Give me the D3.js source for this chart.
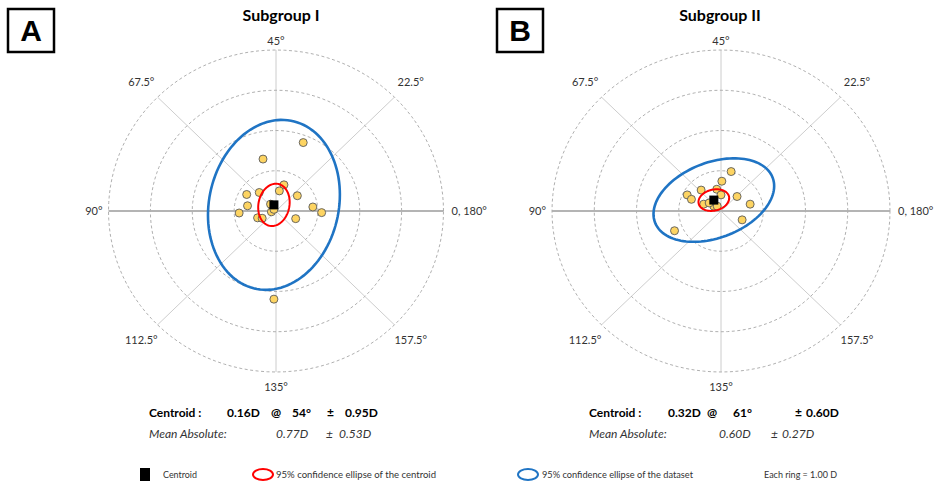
<!DOCTYPE html>
<html>
<head>
<meta charset="utf-8">
<script src="https://cdn.jsdelivr.net/npm/d3@7"></script>
<style>
  body { margin: 0; background: white; }
  text { font-family: Lato, "Open Sans", sans-serif; }
</style>
</head>
<body>
<div id="vis"></div>
<script>
// data (double-angle plot, values in diopters)
let panelLetters = ['A', 'B']
let titles = ['Subgroup I', 'Subgroup II']
let ringValues = [1, 2, 3, 4]
let spokeAngles = [22.5, 67.5, 112.5, 157.5]
let axisLabels = ['0, 180°', '22.5°', '45°', '67.5°', '90°', '112.5°', '135°', '157.5°']

// points as [x, y] components
let pointsA = [
  [0.65, 1.70], [-0.31, 1.29], [0.19, 0.65], [0.08, 0.50], [-0.40, 0.46],
  [-0.70, 0.41], [0.51, 0.38], [-0.68, 0.13], [-0.13, 0.17], [0.88, 0.10],
  [-0.88, -0.05], [1.09, -0.04], [-0.11, -0.02], [-0.05, 0.04], [-0.44, -0.17],
  [-0.33, -0.18], [0.47, -0.19], [-0.05, -2.19]
]
let pointsB = [
  [0.24, 0.98], [0.02, 0.74], [-0.47, 0.52], [-0.10, 0.54], [-0.80, 0.40],
  [-0.70, 0.29], [0.00, 0.40], [0.38, 0.36], [-0.41, 0.17], [-0.17, 0.12],
  [-0.09, 0.12], [0.69, 0.17], [0.50, -0.22], [-1.10, -0.49], [-0.28, 0.20]
]

let centroidMag = [0.16, 0.32]
let centroidAxis = [54, 61]
let centroidSD = [0.95, 0.60]
let meanAbs = [0.77, 0.60]
let meanAbsSD = [0.53, 0.27]

// ellipses: [semi-major, semi-minor, rotation in degrees]
let centroidEllipse = [[0.53, 0.37, 80], [0.37, 0.26, 15]]
let datasetEllipse = [[2.13, 1.55, 79], [1.50, 0.93, 23]]

let legendLabels = ['Centroid', '95% confidence ellipse of  the centroid', '95% confidence ellipse of the dataset', 'Each ring = 1.00 D']

// layout
let width = 936, height = 489
let panels = [
  { cx: 276, cy: 211, rx: 167.5, ry: 161, box: 8, titleX: 281,
    row1X: [149, 227, 271, 292, 327, 345], row2X: [149, 276, 326, 339] },
  { cx: 721, cy: 211, rx: 169, ry: 161, box: 497, titleX: 720,
    row1X: [589, 668, 707, 733, 795, 806], row2X: [589, 719, 771, 782] }
]

let svg = d3.select('#vis')
  .append('svg')
  .attr('width', width)
  .attr('height', height)
  .style('background-color', 'white')

let ellipseLine = (x, y) => d3.line()
  .x(d => x(d[0]))
  .y(d => y(d[1]))
  .curve(d3.curveLinearClosed)

function ellipsePoints(cx, cy, a, b, rotDeg) {
  let th = rotDeg * Math.PI / 180
  return d3.range(0, 360, 3).map(t => {
    let r = t * Math.PI / 180
    return [cx + a * Math.cos(r) * Math.cos(th) - b * Math.sin(r) * Math.sin(th),
            cy + a * Math.cos(r) * Math.sin(th) + b * Math.sin(r) * Math.cos(th)]
  })
}

panels.forEach((p, i) => {
  let g = svg.append('g')
  let x = d3.scaleLinear().domain([-4, 4]).range([p.cx - p.rx, p.cx + p.rx])
  let y = d3.scaleLinear().domain([-4, 4]).range([p.cy + p.ry, p.cy - p.ry])
  let line = ellipseLine(x, y)

  // panel letter box
  g.append('rect')
    .attr('x', p.box).attr('y', 9)
    .attr('width', 46).attr('height', 43)
    .attr('fill', 'none').attr('stroke', 'black').attr('stroke-width', 2.5)
  g.append('text')
    .attr('x', p.box + 23).attr('y', 41)
    .attr('text-anchor', 'middle')
    .style('font-family', 'Arial, "Liberation Sans", sans-serif')
    .style('font-size', '30px').style('font-weight', 'bold')
    .text(panelLetters[i])

  // title
  g.append('text')
    .attr('x', p.titleX).attr('y', 21)
    .attr('text-anchor', 'middle')
    .style('font-size', '16px').style('font-weight', 'bold')
    .text(titles[i])

  // spokes at 45° display angles
  spokeAngles.forEach(a => {
    let t = 2 * a * Math.PI / 180
    g.append('line')
      .attr('x1', x(0)).attr('y1', y(0))
      .attr('x2', x(4 * Math.cos(t))).attr('y2', y(4 * Math.sin(t)))
      .attr('stroke', '#cdcdcd').attr('stroke-width', 1)
  })
  // vertical axis
  g.append('line')
    .attr('x1', x(0)).attr('x2', x(0))
    .attr('y1', y(4)).attr('y2', y(-4))
    .attr('stroke', '#cccccc').attr('stroke-width', 1)
  // horizontal axis
  g.append('line')
    .attr('x1', x(-4)).attr('x2', x(4))
    .attr('y1', y(0)).attr('y2', y(0))
    .attr('stroke', '#b4b4b4').attr('stroke-width', 2)

  // rings
  ringValues.forEach(r => {
    g.append('path')
      .attr('d', line(ellipsePoints(0, 0, r, r, 0)))
      .attr('fill', 'none')
      .attr('stroke', '#b0b0b0')
      .attr('stroke-width', 1)
      .attr('stroke-dasharray', '3,2.5')
  })

  // axis labels
  axisLabels.forEach((lab, k) => {
    let t = k * 45 * Math.PI / 180
    let rr = (k % 2 == 0) ? 4 : 4.55
    let px = x(rr * Math.cos(t)), py = y(rr * Math.sin(t))
    let anchor = 'middle', dy = 4
    if (k == 0) { anchor = 'start'; px += 8 }
    if (k == 4) { anchor = 'end'; px -= 6 }
    if (k == 2) { py -= 9 }
    if (k == 6) { py += 15 }
    g.append('text')
      .attr('x', px).attr('y', py + dy)
      .attr('text-anchor', anchor)
      .style('font-size', '11px').attr('fill', '#333')
      .text(lab)
  })

  let pts = i == 0 ? pointsA : pointsB
  let t2 = 2 * centroidAxis[i] * Math.PI / 180
  let cen = [centroidMag[i] * Math.cos(t2), centroidMag[i] * Math.sin(t2)]

  // dataset ellipse
  let de = datasetEllipse[i]
  g.append('path')
    .attr('d', line(ellipsePoints(cen[0], cen[1], de[0], de[1], de[2])))
    .attr('fill', 'none').attr('stroke', '#1f74c4').attr('stroke-width', 2.6)

  // points
  g.selectAll('circle.pt')
    .data(pts)
    .join('circle')
    .attr('class', 'pt')
    .attr('cx', d => x(d[0])).attr('cy', d => y(d[1]))
    .attr('r', 4)
    .attr('fill', '#fdd462').attr('stroke', '#5a5a5a').attr('stroke-width', 0.9)

  // centroid ellipse
  let ce = centroidEllipse[i]
  g.append('path')
    .attr('d', line(ellipsePoints(cen[0], cen[1], ce[0], ce[1], ce[2])))
    .attr('fill', 'none').attr('stroke', '#ff0000').attr('stroke-width', 2)

  // centroid square
  g.append('rect')
    .attr('x', x(cen[0]) - 4.5).attr('y', y(cen[1]) - 4.5)
    .attr('width', 9).attr('height', 9)
    .attr('fill', 'black')

  // stats text
  let row1 = ['Centroid :', centroidMag[i].toFixed(2) + 'D', '@', centroidAxis[i] + '°', '±', centroidSD[i].toFixed(2) + 'D']
  row1.forEach((t, k) => {
    g.append('text')
      .attr('x', p.row1X[k]).attr('y', 417)
      .style('font-size', '12px').style('font-weight', 'bold')
      .text(t)
  })
  let row2 = ['Mean Absolute:', meanAbs[i].toFixed(2) + 'D', '±', meanAbsSD[i].toFixed(2) + 'D']
  row2.forEach((t, k) => {
    g.append('text')
      .attr('x', p.row2X[k]).attr('y', 438)
      .style('font-size', '12px').style('font-style', 'italic').attr('fill', '#333')
      .text(t)
  })
})

// legend
let lg = svg.append('g')
lg.append('rect')
  .attr('x', 140).attr('y', 468).attr('width', 10).attr('height', 13)
  .attr('fill', 'black')
lg.append('ellipse')
  .attr('cx', 263).attr('cy', 474.5).attr('rx', 10).attr('ry', 5.5)
  .attr('fill', 'none').attr('stroke', '#ff0000').attr('stroke-width', 2)
lg.append('ellipse')
  .attr('cx', 528).attr('cy', 474.5).attr('rx', 10).attr('ry', 5.5)
  .attr('fill', 'none').attr('stroke', '#1f74c4').attr('stroke-width', 2)
let legX = [163, 276, 542, 764]
let legW = [34, 160, 151, 73]
legendLabels.forEach((t, k) => {
  lg.append('text')
    .attr('x', legX[k]).attr('y', 478)
    .attr('textLength', legW[k]).attr('lengthAdjust', 'spacingAndGlyphs')
    .style('font-size', '10px').attr('fill', '#333')
    .text(t)
})
</script>
</body>
</html>
